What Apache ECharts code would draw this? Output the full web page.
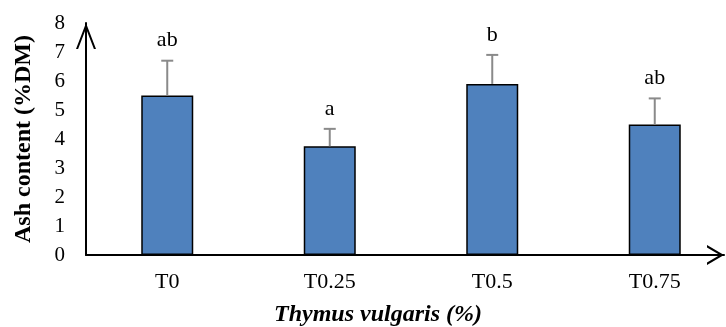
<!DOCTYPE html>
<html>
<head>
<meta charset="utf-8">
<script src="https://cdn.jsdelivr.net/npm/echarts@6/dist/echarts.min.js"></script>
<style>
  html, body { margin: 0; padding: 0; background: #fff; }
  #chart { width: 726px; height: 327px; }
</style>
</head>
<body>
<div id="chart"></div>
<script>
// Ash content by Thymus vulgaris inclusion level
const categories = ['T0', 'T0.25', 'T0.5', 'T0.75'];
const ashMean = [5.5, 3.75, 5.9, 4.5];
const ashError = [1.2, 0.6, 1.0, 0.9];
const groupLetters = ['ab', 'a', 'b', 'ab'];
const yTickMin = 0;
const yTickMax = 8;
const yTickStep = 1;

const SERIF = "'Liberation Serif', 'Times New Roman', serif";
// open chevron arrow heads for the axes (pointing up, rotated by the axis)
const ARROW_Y = 'path://M0,26 L10,0 L20,26 L17.9,26 L10,5.6 L2.1,26 Z';
const ARROW_X = 'path://M0,17 L10,0 L20,17 L17.6,17 L10,4.2 L2.4,17 Z';

const errorData = categories.map((c, i) => [i, ashMean[i], ashError[i]]);

const chart = echarts.init(document.getElementById('chart'), null, { renderer: 'canvas' });

chart.setOption({
  animation: false,
  backgroundColor: '#ffffff',
  grid: [
    { left: 86, top: 23, width: 650, bottom: 72, outerBoundsMode: 'none', containLabel: false },
    { left: 86, top: 23, right: 2, bottom: 72, outerBoundsMode: 'none', containLabel: false }
  ],
  xAxis: [
    {
      type: 'category',
      gridIndex: 0,
      data: categories,
      axisLine: { show: false },
      axisTick: { show: false },
      axisLabel: { color: '#000', fontFamily: SERIF, fontSize: 22, margin: 16 }
    },
    {
      type: 'value',
      gridIndex: 1,
      min: 0,
      max: 1,
      axisLine: {
        show: true,
        lineStyle: { color: '#000', width: 2 },
        symbol: ['none', ARROW_X],
        symbolSize: [20, 17],
        symbolOffset: [0, -8.5]
      },
      axisTick: { show: false },
      axisLabel: { show: false },
      splitLine: { show: false }
    }
  ],
  yAxis: [
    {
      type: 'value',
      gridIndex: 0,
      min: yTickMin,
      max: yTickMax,
      interval: yTickStep,
      name: 'Ash content (%DM)',
      nameLocation: 'middle',
      nameGap: 50,
      nameTextStyle: { color: '#000', fontFamily: SERIF, fontSize: 24, fontWeight: 'bold' },
      axisLine: {
        show: true,
        lineStyle: { color: '#000', width: 2 },
        symbol: ['none', ARROW_Y],
        symbolSize: [20, 26],
        symbolOffset: [0, -13]
      },
      axisTick: { show: false },
      axisLabel: { color: '#000', fontFamily: SERIF, fontSize: 21, margin: 21 },
      splitLine: { show: false }
    },
    { type: 'value', gridIndex: 1, show: false, min: 0, max: 1 }
  ],
  graphic: [
    {
      type: 'text',
      x: 378,
      y: 315,
      style: {
        text: 'Thymus vulgaris (%)',
        font: "italic bold 24px " + SERIF,
        fill: '#000',
        textAlign: 'center',
        textVerticalAlign: 'middle'
      }
    }
  ],
  series: [
    {
      type: 'bar',
      xAxisIndex: 0,
      yAxisIndex: 0,
      data: ashMean,
      barWidth: 52,
      itemStyle: { color: '#4F81BD', borderColor: '#000', borderWidth: 1.5 },
      z: 2
    },
    {
      type: 'custom',
      xAxisIndex: 0,
      yAxisIndex: 0,
      data: errorData,
      encode: { x: 0, y: 1 },
      z: 3,
      renderItem: function (params, api) {
        const i = api.value(0);
        const mean = api.value(1);
        const err = api.value(2);
        const base = api.coord([i, mean]);
        const top = api.coord([i, mean + err]);
        const barStyle = { stroke: '#8a8a8a', lineWidth: 2 };
        return {
          type: 'group',
          children: [
            { type: 'line', shape: { x1: base[0], y1: base[1], x2: top[0], y2: top[1] }, style: barStyle },
            { type: 'line', shape: { x1: top[0] - 6, y1: top[1], x2: top[0] + 6, y2: top[1] }, style: barStyle },
            {
              type: 'text',
              x: top[0],
              y: top[1] - 9,
              style: {
                text: groupLetters[params.dataIndex],
                font: '22px ' + SERIF,
                fill: '#000',
                textAlign: 'center',
                textVerticalAlign: 'bottom'
              }
            }
          ]
        };
      }
    }
  ]
});
</script>
</body>
</html>
